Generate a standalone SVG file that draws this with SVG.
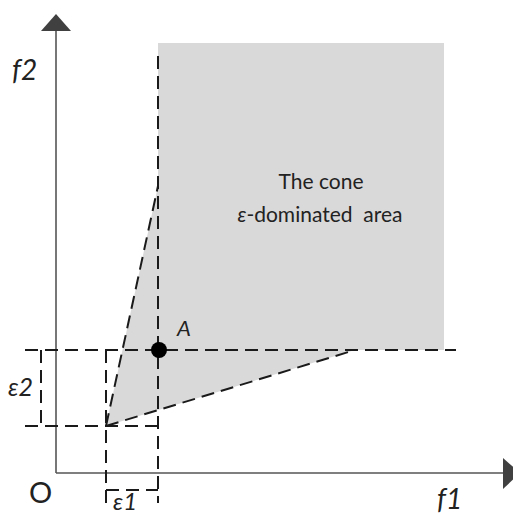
<svg xmlns="http://www.w3.org/2000/svg" width="513" height="516" viewBox="0 0 513 516">
<style>
.ax{stroke:#555;stroke-width:1.6;fill:none}
.ah{fill:#404040}
.d{stroke:#1a1a1a;stroke-width:2;stroke-dasharray:13 7;fill:none}
.t{font-family:Lato,"Open Sans",sans-serif;fill:#222}
.i{font-style:italic}
</style>
<rect width="513" height="516" fill="#fff"/>
<g id="area">
<polygon points="106,426 158,186 158,43 444,43 444,350 355,350" fill="#d9d9d9"/>
</g>
<g id="axes">
<line class="ax" x1="56" y1="30" x2="56" y2="473"/>
<line class="ax" x1="56" y1="473" x2="504" y2="473"/>
<polygon class="ah" points="56,14 41,31 71,31"/>
<polygon class="ah" points="520,473 503,458 503,489"/>
</g>
<g id="connectors">
<line class="d" x1="158" y1="56" x2="158" y2="503"/>
<line class="d" x1="25" y1="350" x2="456" y2="350"/>
<line class="d" x1="25" y1="426" x2="164" y2="426"/>
<line class="d" x1="106" y1="350" x2="106" y2="503"/>
<line class="d" x1="41" y1="350" x2="41" y2="426"/>
<line class="d" x1="106" y1="490" x2="158" y2="490"/>
<line class="d" x1="106" y1="426" x2="158" y2="186"/>
<line class="d" x1="106" y1="426" x2="355" y2="350"/>
</g>
<g id="pointA">
<circle cx="159" cy="350" r="8" fill="#000"/>
<text class="t i" x="177" y="336" font-size="22">A</text>
</g>
<g id="labels">
<text class="t i" x="12" y="80" font-size="28">f2</text>
<text class="t i" x="437" y="509" font-size="28">f1</text>
<text class="t" x="29" y="503" font-size="29">O</text>
<text class="t i" x="113" y="510" font-size="24">ε1</text>
<text class="t i" x="8" y="396" font-size="25">ε2</text>
<text class="t" x="321" y="189" font-size="21" text-anchor="middle">The cone</text>
<text class="t" x="320" y="222" font-size="21" text-anchor="middle" xml:space="preserve"><tspan class="i">ε</tspan>-dominated  area</text>
</g>
</svg>
